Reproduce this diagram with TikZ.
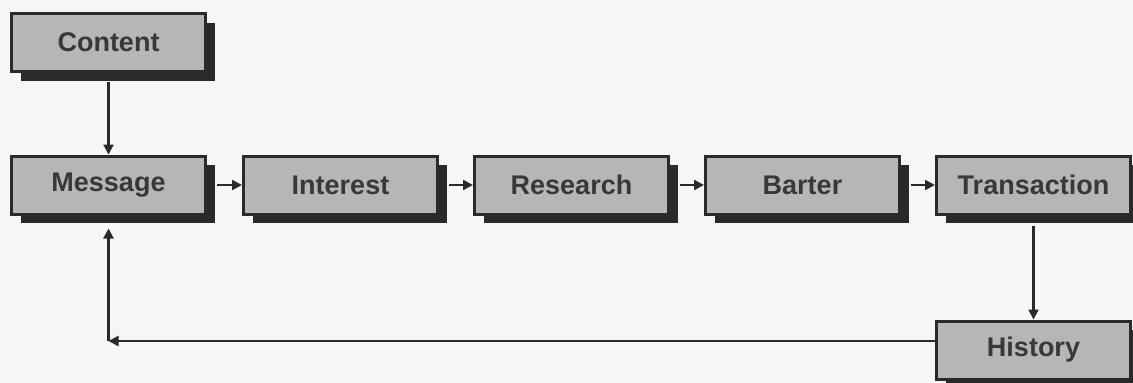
\documentclass[tikz,border=0pt]{standalone}
\usepackage{fontspec}
\setmainfont{Liberation Sans}
\usetikzlibrary{arrows.meta,shadows}
\definecolor{bgc}{HTML}{F6F6F6}
\definecolor{boxfill}{HTML}{B6B6B6}
\definecolor{boxline}{HTML}{2A2A2A}
\definecolor{txt}{HTML}{383838}
\tikzset{
  stagebox/.style={rectangle, draw=boxline, line width=3pt, fill=boxfill,
    minimum width=194pt, minimum height=58pt, inner sep=0pt,
    font=\fontsize{27}{30}\selectfont\bfseries, text=txt,
    general shadow={shadow xshift=9pt, shadow yshift=-9pt, fill=boxline}},
  flow/.style={draw=boxline, line width=2.2pt,
    -{Triangle[length=10pt,width=10pt]}}
}
\begin{document}
\begin{tikzpicture}[x=1pt,y=-1pt]
\fill[bgc] (0,0) rectangle (1133,383);
\useasboundingbox (0,0) rectangle (1133,383);
\node[stagebox] (content) at (108.5,42.5) {Content};
\node[stagebox] (message) at (108.5,185) {Message};
\node[stagebox] (interest) at (340.5,185) {Interest};
\node[stagebox] (research) at (571.5,185) {Research};
\node[stagebox] (barter) at (802.5,185) {Barter};
\node[stagebox] (transaction) at (1033.5,185) {Transaction};
\node[stagebox] (history) at (1033.5,350) {History};
\draw[flow] ([yshift=-9pt]content.south) -- (message.north);
\draw[flow] ([xshift=10pt]message.east) -- (interest.west);
\draw[flow] ([xshift=10pt]interest.east) -- (research.west);
\draw[flow] ([xshift=10pt]research.east) -- (barter.west);
\draw[flow] ([xshift=10pt]barter.east) -- (transaction.west);
\draw[flow] ([yshift=-10pt]transaction.south) -- (history.north);
\coordinate (hw) at ([yshift=9pt]history.west);
\coordinate (fb) at (hw -| message.south);
\draw[flow] (hw) -- (fb);
\draw[flow] (fb) -- ([yshift=-13pt]message.south);
\end{tikzpicture}
\end{document}
